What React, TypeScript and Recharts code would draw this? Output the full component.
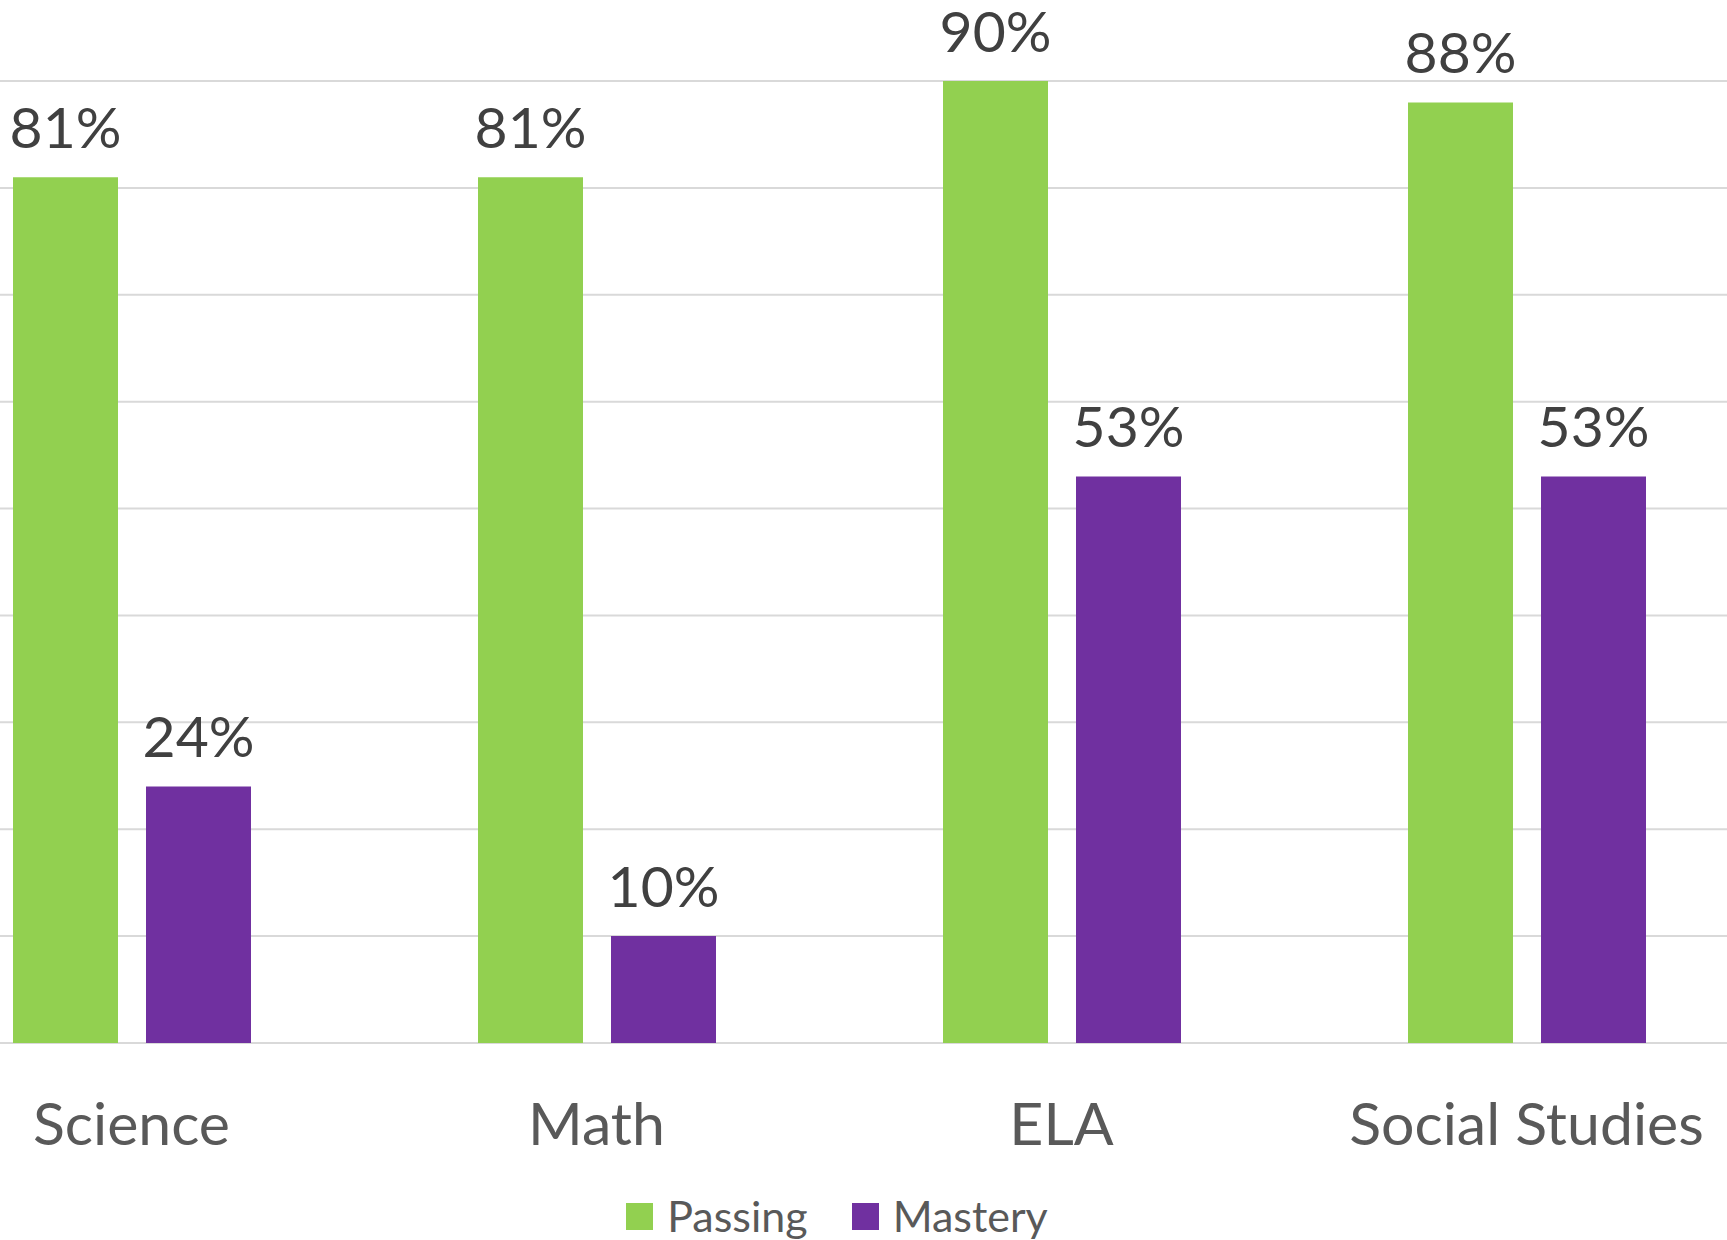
import { BarChart, Bar, XAxis, YAxis, CartesianGrid, LabelList } from 'recharts';

const SUBJECTS = ['Science', 'Math', 'ELA', 'Social Studies'];
const PASSING = [81, 81, 90, 88];
const MASTERY = [24, 10, 53, 53];
const Y_TICKS = [0, 10, 20, 30, 40, 50, 60, 70, 80, 90];

const SERIES = [
  { key: 'passing', name: 'Passing', color: '#92D050' },
  { key: 'mastery', name: 'Mastery', color: '#7030A0' },
];

const data = SUBJECTS.map((subject, i) => ({
  subject,
  passing: PASSING[i],
  mastery: MASTERY[i],
}));

const FONT = 'Lato, "Open Sans", sans-serif';

export default function App() {
  return (
    <div
      style={{
        position: 'absolute',
        left: 0,
        top: 0,
        width: 1727,
        height: 1240,
        overflow: 'hidden',
        background: '#ffffff',
        fontFamily: FONT,
      }}
    >
      <div style={{ position: 'absolute', left: -101, top: 0 }}>
        <BarChart
          width={1860}
          height={1240}
          data={data}
          margin={{ top: 81, right: 0, left: 0, bottom: 97 }}
          barGap={28}
          barSize={105}
        >
          <CartesianGrid vertical={false} stroke="#d9d9d9" strokeWidth={2} />
          <XAxis
            dataKey="subject"
            height={100}
            axisLine={false}
            tickLine={false}
            tickSize={0}
            tickMargin={60}
            tick={{ fill: '#595959', fontSize: 59, fontFamily: FONT }}
            interval={0}
          />
          <YAxis hide domain={[0, 90]} ticks={Y_TICKS} />
          {SERIES.map((s) => (
            <Bar key={s.key} dataKey={s.key} name={s.name} fill={s.color} isAnimationActive={false}>
              <LabelList
                dataKey={s.key}
                position="top"
                offset={29}
                fill="#404040"
                fontSize={57}
                fontFamily={FONT}
                formatter={(v: number) => `${v}%`}
              />
            </Bar>
          ))}
        </BarChart>
      </div>
      <div
        style={{
          position: 'absolute',
          left: 0,
          top: 1192,
          width: 1727,
          display: 'flex',
          justifyContent: 'center',
          paddingRight: 53,
          boxSizing: 'border-box',
          gap: 44,
          color: '#595959',
          fontSize: 43,
          lineHeight: '48px',
        }}
      >
        {SERIES.map((s) => (
          <div key={s.key} style={{ display: 'flex', alignItems: 'center', gap: 14 }}>
            <span style={{ width: 27, height: 27, background: s.color, display: 'inline-block' }} />
            <span>{s.name}</span>
          </div>
        ))}
      </div>
    </div>
  );
}
